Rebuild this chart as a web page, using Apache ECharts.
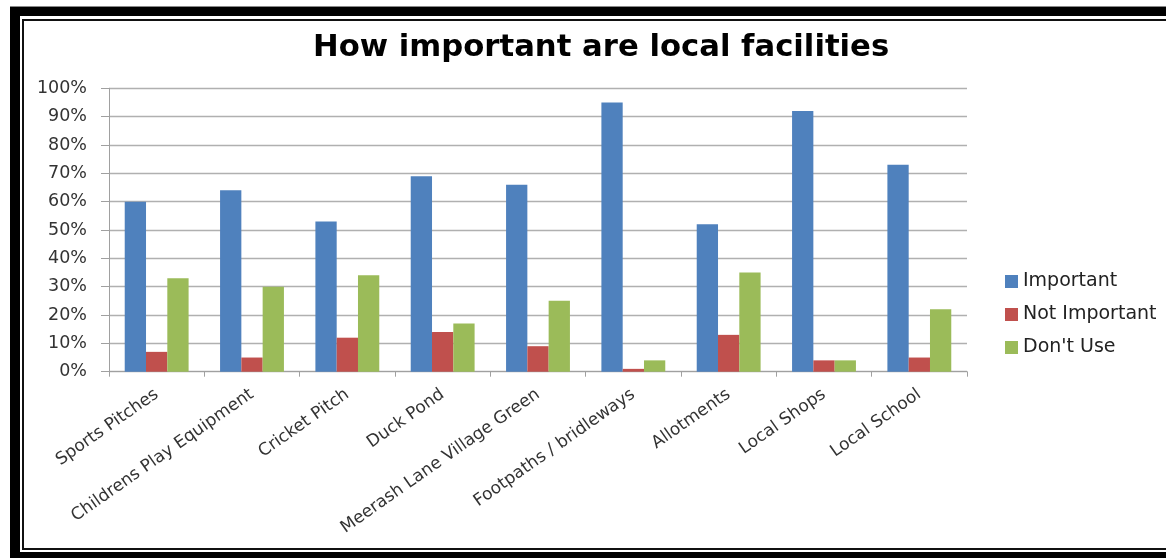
<!DOCTYPE html>
<html>
<head>
<meta charset="utf-8">
<script src="https://cdn.jsdelivr.net/npm/echarts@6/dist/echarts.min.js"></script>
<style>
html,body{margin:0;padding:0;background:#fff;}
#chart{width:1166px;height:558px;}
</style>
</head>
<body>
<div id="chart"></div>
<script>
const categories = ['Sports Pitches','Childrens Play Equipment','Cricket Pitch','Duck Pond','Meerash Lane Village Green','Footpaths / bridleways','Allotments','Local Shops','Local School'];
const important = [60, 64, 53, 69, 66, 95, 52, 92, 73];
const notImportant = [7, 5, 12, 14, 9, 1, 13, 4, 5];
const dontUse = [33, 30, 34, 17, 25, 4, 35, 4, 22];
const yTicks = [0, 10, 20, 30, 40, 50, 60, 70, 80, 90, 100];

const chart = echarts.init(document.getElementById('chart'), null, {renderer: 'canvas'});
const FONT = 'DejaVu Sans';
const option = {
  backgroundColor: '#fff',
  animation: false,
  title: {
    text: 'How important are local facilities',
    left: 313,
    top: 33,
    padding: 0,
    textStyle: {fontFamily: FONT, fontWeight: 'bold', fontSize: 30.7, color: '#000'}
  },
  legend: {
    orient: 'vertical',
    left: 1005,
    top: 272,
    padding: 0,
    itemWidth: 13,
    itemHeight: 13,
    itemGap: 14,
    icon: 'rect',
    textStyle: {fontFamily: FONT, fontSize: 19, color: '#222'},
    data: ['Important', 'Not Important', "Don't Use"]
  },
  grid: {left: 109, right: 199, top: 88.3, bottom: 186.3, containLabel: false},
  xAxis: {
    type: 'category',
    data: categories,
    axisLine: {lineStyle: {color: '#a0a0a0', width: 1}},
    axisTick: {show: true, length: 5, lineStyle: {color: '#a0a0a0'}},
    axisLabel: {rotate: 35, margin: 21, fontFamily: FONT, fontSize: 17, color: '#333', interval: 0}
  },
  yAxis: {
    type: 'value',
    min: yTicks[0],
    max: yTicks[yTicks.length - 1],
    interval: yTicks[1] - yTicks[0],
    axisLine: {show: true, lineStyle: {color: '#a0a0a0', width: 1}},
    axisTick: {show: true, length: 8, lineStyle: {color: '#a0a0a0'}},
    splitLine: {show: true, lineStyle: {color: '#b0b0b0', width: 1.3}},
    axisLabel: {margin: 22, fontFamily: FONT, fontSize: 17.5, color: '#333', formatter: '{value}%'}
  },
  series: [
    {name: 'Important', type: 'bar', data: important, barGap: '0%', barCategoryGap: '33%', itemStyle: {color: '#4F81BD'}},
    {name: 'Not Important', type: 'bar', data: notImportant, barGap: '0%', barCategoryGap: '33%', itemStyle: {color: '#C0504D'}},
    {name: "Don't Use", type: 'bar', data: dontUse, barGap: '0%', barCategoryGap: '33%', itemStyle: {color: '#9BBB59'}}
  ],
  graphic: [
    {type: 'rect', shape: {x: 10, y: 6, width: 1200, height: 1}, style: {fill: '#888'}, silent: true},
    {type: 'rect', shape: {x: 10, y: 7, width: 1200, height: 9}, style: {fill: '#000'}, silent: true},
    {type: 'rect', shape: {x: 10, y: 7, width: 10, height: 560}, style: {fill: '#000'}, silent: true},
    {type: 'rect', shape: {x: 10, y: 552, width: 1200, height: 10}, style: {fill: '#000'}, silent: true},
    {type: 'rect', shape: {x: 22, y: 19, width: 1200, height: 2}, style: {fill: '#111'}, silent: true},
    {type: 'rect', shape: {x: 22, y: 19, width: 2, height: 531}, style: {fill: '#111'}, silent: true},
    {type: 'rect', shape: {x: 22, y: 548, width: 1200, height: 2}, style: {fill: '#111'}, silent: true}
  ]
};
chart.setOption(option);
</script>
</body>
</html>
